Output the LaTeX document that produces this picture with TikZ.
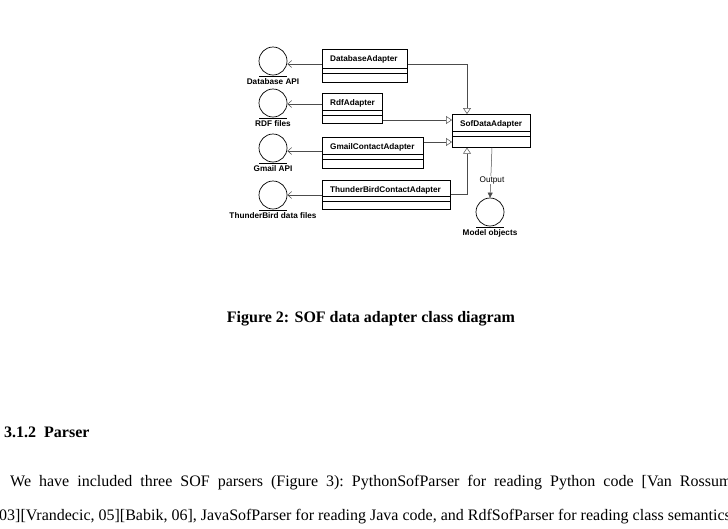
\documentclass[tikz,border=0pt]{standalone}
\usepackage{fontspec}
\setmainfont{Liberation Serif}
\newfontfamily\diag{Liberation Sans}
\usetikzlibrary{arrows.meta}
\begin{document}
\begin{tikzpicture}[x=1pt,y=-1pt,
  cls/.style={draw,line width=0.7pt,anchor=north west,minimum height=#1,inner sep=0pt},
  nm/.style={font=\diag\bfseries\fontsize{8.2}{9}\selectfont,anchor=west,inner sep=0pt},
  lbl/.style={font=\diag\bfseries\fontsize{8.2}{9}\selectfont,inner sep=0pt},
  ent/.style={draw,circle,line width=0.7pt,minimum size=28pt,inner sep=0pt},
  dep/.style={draw=black!70,line width=0.5pt,-{Straight Barb[length=4pt,width=7pt]}},
  gen/.style={draw=black!70,line width=0.5pt,-{Triangle[open,length=6pt,width=8pt]}}]
\useasboundingbox (0,0) rectangle (728,528);
\newcommand{\umlclass}[6]{%
  \node[cls=#5-#3,minimum width=#4-#2] (#1) at (#2,#3) {};
  \draw[line width=0.5pt] (#2,#6) -- (#4,#6) (#2,#6+5) -- (#4,#6+5);
}
\umlclass{db}{322}{49}{407}{82}{68}
\node[nm] at (330,59) {DatabaseAdapter};
\umlclass{rdf}{322}{93}{382}{123}{110}
\node[nm] at (330,103) {RdfAdapter};
\umlclass{gm}{322}{137}{423}{168}{154}
\node[nm] at (330,147) {GmailContactAdapter};
\umlclass{tb}{322}{180}{450}{209}{196}
\node[nm] at (330,190) {ThunderBirdContactAdapter};
\umlclass{sof}{452}{114}{530}{147}{131}
\node[nm] at (460,124) {SofDataAdapter};
\newcommand{\ent}[5]{%
  \node[ent] (#1) at (#2,#3) {};
  \draw[line width=0.7pt] (#2-14,#3+15) -- (#2+14,#3+15);
  \node[lbl] at (#4,#3+21) {#5};
}
\ent{edb}{273}{61}{273}{Database API}
\ent{erdf}{273}{103}{273}{RDF files}
\ent{egm}{273}{148}{273}{Gmail API}
\ent{etb}{273}{195}{273}{ThunderBird data files}
\ent{emo}{490}{212}{490}{Model objects}
\draw[dep] (db.west |- 0,64) -- (edb.east |- 0,64);
\draw[dep] (rdf.west |- 0,104) -- (erdf.east |- 0,104);
\draw[dep] (gm.west |- 0,151) -- (egm.east |- 0,151);
\draw[dep] (tb.west |- 0,195) -- (etb.east);
\draw[gen] (db.east |- 0,64) -| (sof.north -| 467,0);
\draw[gen] (rdf.east |- 0,120) -- (sof.west |- 0,120);
\draw[gen] (gm.east |- 0,142) -- (sof.west |- 0,142);
\draw[gen] (tb.east |- 0,194) -| (sof.south -| 467,0);
\draw[draw=black!70,line width=0.5pt,-{Triangle[length=5pt,width=5pt]}] (sof.south -| 492,0) -- (emo.north);
\node[font=\diag\fontsize{8.2}{9}\selectfont,fill=white,inner sep=0.3pt] at (492,180) {Output};
\node[font=\bfseries\fontsize{16}{18}\selectfont] at (371,319) {Figure 2: SOF data adapter class diagram};
\node[font=\bfseries\fontsize{16}{18}\selectfont,anchor=west,inner sep=0pt] at (4,432) {3.1.2\ \ Parser};
\begin{scope}
\clip (0,0) rectangle (728,528);
\node[font=\fontsize{16}{18}\selectfont,anchor=west,inner sep=0pt] at (10,483) {We\ \ have\ \ included\ \ three\ \ SOF\ \ parsers\ \ (Figure\ \ 3):\ \ PythonSofParser\ \ for\ \ reading\ \ Python\ \ code\ \ [Van\ \ Rossum,};
\node[font=\fontsize{16}{18}\selectfont,anchor=west,inner sep=0pt] at (-1,517) {03][Vrandecic, 05][Babik, 06], JavaSofParser for reading Java code, and RdfSofParser for reading class semantics};
\end{scope}
\end{tikzpicture}
\end{document}
